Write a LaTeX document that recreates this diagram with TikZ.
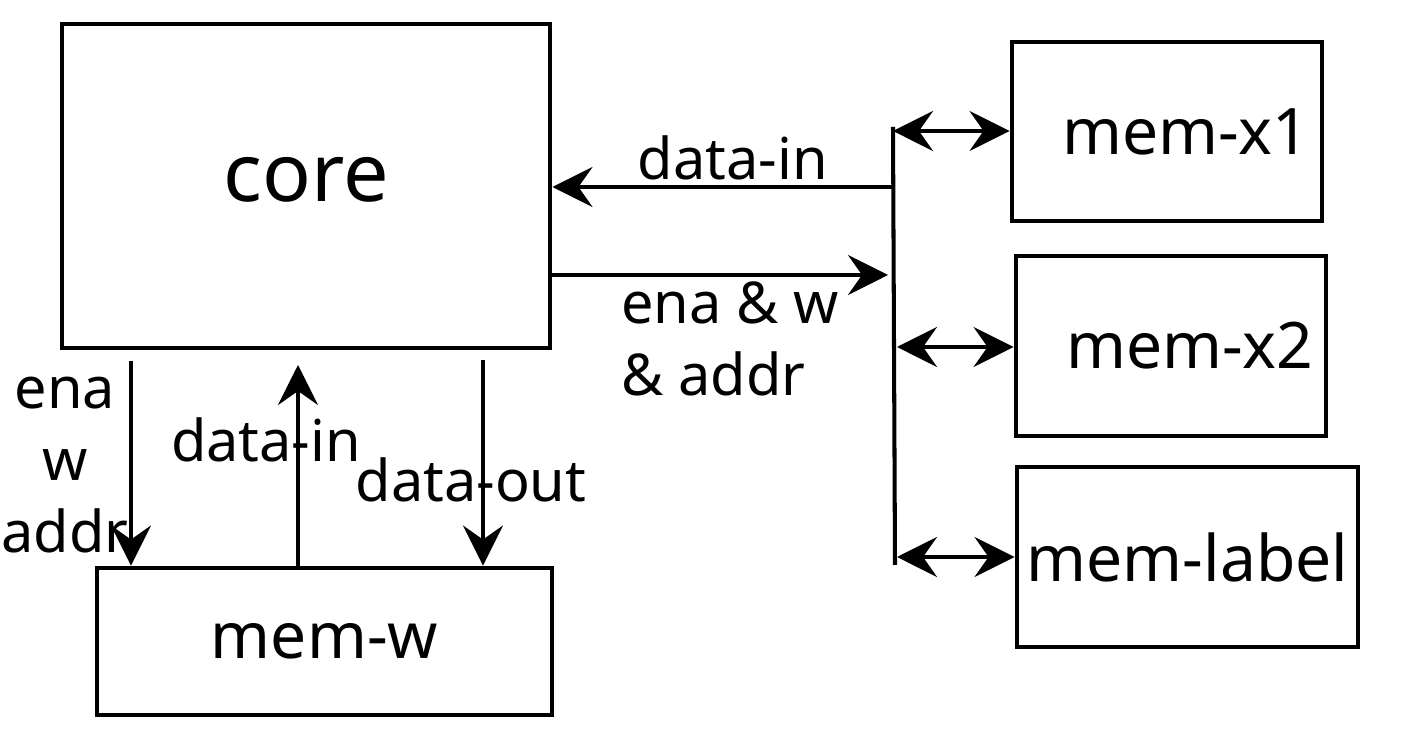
\documentclass[tikz,border=0pt]{standalone}
\usepackage{fontspec}
\setmainfont{Noto Sans}
\usetikzlibrary{arrows.meta,positioning,calc}

\begin{document}
\begin{tikzpicture}[
  box/.style={draw, line width=2.8pt, inner sep=0pt, font=\fontsize{36.5}{40}\selectfont},
  lbl/.style={inner sep=0pt, font=\fontsize{32.8}{41}\selectfont},
  ar/.style={-{Stealth[length=0.8cm, width=0.8cm, inset=0.28cm]}, line width=2.3pt},
  br/.style={{Stealth[length=0.8cm, width=0.8cm, inset=0.28cm]}-{Stealth[length=0.8cm, width=0.8cm, inset=0.28cm]}, line width=2.3pt}
]
\useasboundingbox (0,0) rectangle (28.06,14.96);
\node[box, minimum width=9.76cm, minimum height=6.48cm] (core) at (6.12, 11.24) {};
\node[lbl, font=\fontsize{46}{50}\selectfont] (coret) at (6.12, 11.36) {core};
\node[box, minimum width=9.1cm, minimum height=2.94cm] (memw) at (6.49, 2.13) {mem-w};
\node[box, minimum width=6.2cm, minimum height=3.58cm, text width=5.7cm, align=right] (x1) at (23.34, 12.33) {mem-x1};
\node[box, minimum width=6.2cm, minimum height=3.6cm, text width=5.7cm, align=right] (x2) at (23.42, 8.04) {mem-x2};
\node[box, minimum width=6.82cm, minimum height=3.6cm] (lab) at (23.75, 3.82) {mem-label};
% bus
\coordinate (bt) at (17.86, 12.42);
\coordinate (bb) at (17.90, 3.66);
\draw[line width=2.3pt] (bt) -- (bb);
\coordinate (bin) at (17.86, 11.22);
\coordinate (bout) at (17.76, 9.46);
\coordinate (b1) at (17.86, 12.34);
\coordinate (b2) at (17.94, 8.02);
\coordinate (b3) at (17.94, 3.82);
\draw[ar] (bin) -- (bin -| core.east) node[lbl, midway, above=0.1cm, xshift=0.2cm] (din) {data-in};
\draw[ar] (core.east |- bout) -- (bout);
\node[lbl, align=left, anchor=north west] (ena) at (12.42, 9.34) {ena \& w\\\& addr};
\draw[br] (b1) -- (b1 -| x1.west);
\draw[br] (b2) -- (b2 -| x2.west);
\draw[br] (b3) -- (b3 -| lab.west);
% core <-> mem-w
\coordinate (c1) at (2.62, 7.74);
\coordinate (c2) at (5.96, 7.66);
\coordinate (c3) at (9.66, 7.76);
\draw[ar] (c1) -- (c1 |- memw.north);
\draw[ar] (c2 |- memw.north) -- (c2);
\draw[ar] (c3) -- (c3 |- memw.north);
\node[lbl, align=center] (ewa) at (1.3, 5.66) {ena\\w\\addr};
\node[lbl] (din2) at (5.32, 6.16) {data-in};
\node[lbl] (dout) at (9.42, 5.36) {data-out};
\end{tikzpicture}
\end{document}
